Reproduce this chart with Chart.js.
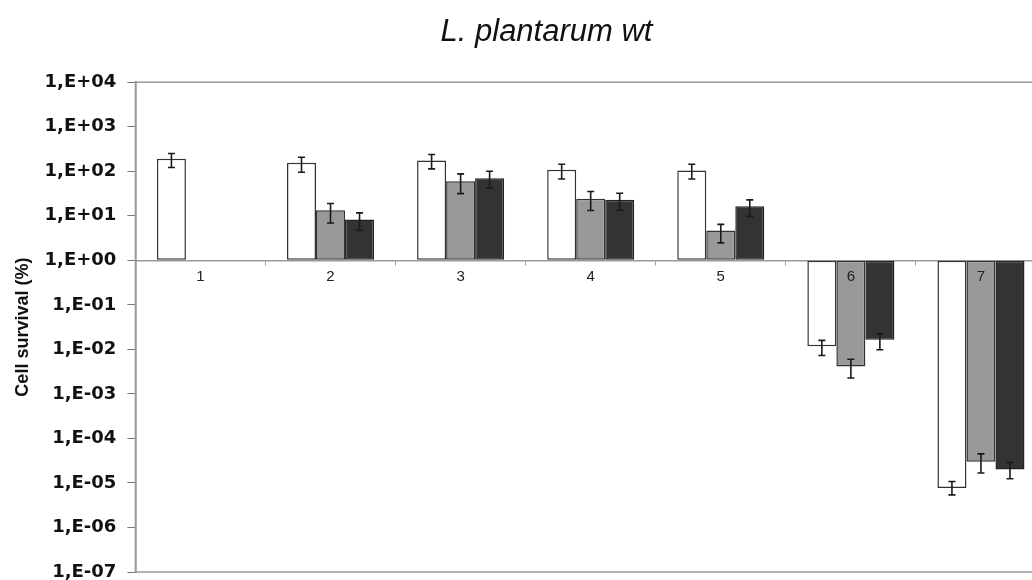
<!DOCTYPE html>
<html>
<head>
<meta charset="utf-8">
<script src="https://cdn.jsdelivr.net/npm/chart.js@4"></script>
<style>
  html, body { margin: 0; padding: 0; background: #fff; overflow: hidden; }
  #wrap { width: 1032px; height: 580px; overflow: hidden; }
</style>
</head>
<body>
<div id="wrap"><canvas id="chart" width="1093" height="600"></canvas></div>
<script>
// L. plantarum wt - cell survival, log scale, bars from 1,E+00

const categories = ['1', '2', '3', '4', '5', '6', '7'];

const survivalWhite = [190, 155, 174, 108, 104, 0.0117, 7.7e-6];
const survivalGrey  = [null, 13.3, 59.6, 24, 4.65, 0.0041, 3.0e-5];
const survivalDark  = [null, 8.2, 69.6, 22.8, 16.3, 0.0165, 2.0e-5];

// error bars [low, high]
const errWhite = [[121, 250], [95, 206], [113, 237], [67, 144], [67, 144], [0.0073, 0.0159], [5.4e-6, 1.08e-5]];
const errGrey  = [null, [6.9, 18.8], [31.5, 87.5], [13.1, 35], [2.46, 6.4], [0.00228, 0.006], [1.67e-5, 4.5e-5]];
const errDark  = [null, [4.7, 11.6], [42.4, 100], [13.3, 32], [9.7, 22.8], [0.0098, 0.0225], [1.24e-5, 2.9e-5]];

const yTickValues = [1e4, 1e3, 1e2, 1e1, 1e0, 1e-1, 1e-2, 1e-3, 1e-4, 1e-5, 1e-6, 1e-7];
const yTickLabels = ['1,E+04', '1,E+03', '1,E+02', '1,E+01', '1,E+00', '1,E-01',
                     '1,E-02', '1,E-03', '1,E-04', '1,E-05', '1,E-06', '1,E-07'];

const errorSets = [errWhite, errGrey, errDark];

const errorBars = {
  id: 'errorBars',
  afterDatasetsDraw(chart) {
    const { ctx } = chart;
    const y = chart.scales.y;
    ctx.save();
    ctx.strokeStyle = '#1a1a1a';
    ctx.lineWidth = 1.6;
    errorSets.forEach((errs, i) => {
      const meta = chart.getDatasetMeta(i);
      meta.data.forEach((bar, j) => {
        const e = errs[j];
        if (!e) return;
        const y1 = y.getPixelForValue(e[0]);
        const y2 = y.getPixelForValue(e[1]);
        ctx.beginPath();
        ctx.moveTo(bar.x, y1); ctx.lineTo(bar.x, y2);
        ctx.moveTo(bar.x - 3.5, y1); ctx.lineTo(bar.x + 3.5, y1);
        ctx.moveTo(bar.x - 3.5, y2); ctx.lineTo(bar.x + 3.5, y2);
        ctx.stroke();
      });
    });
    ctx.restore();
  }
};

// plot frame + title centred on the whole canvas
const frame = {
  id: 'frame',
  afterLayout(chart) {
    if (chart.titleBlock) {
      chart.titleBlock.left = 0;
      chart.titleBlock.right = chart.width;
    }
  },
  beforeDatasetsDraw(chart) {
    const { ctx, chartArea: a } = chart;
    ctx.save();
    ctx.strokeStyle = '#9a9a9a';
    ctx.lineWidth = 1.5;
    ctx.strokeRect(a.left, a.top, a.right - a.left, a.bottom - a.top);
    ctx.restore();
  }
};

function barSet(data, fill, border) {
  return {
    data: data,
    base: 1,
    backgroundColor: fill,
    borderColor: border,
    borderWidth: 1.5,
    borderSkipped: false,
    barPercentage: 1,
    categoryPercentage: 0.669
  };
}

new Chart(document.getElementById('chart'), {
  type: 'bar',
  data: {
    labels: categories,
    datasets: [
      barSet(survivalWhite, '#ffffff', '#333333'),
      barSet(survivalGrey, '#999999', '#333333'),
      barSet(survivalDark, '#333333', '#222222')
    ]
  },
  options: {
    responsive: false,
    devicePixelRatio: 1,
    animation: false,
    layout: { padding: { left: 8, right: 47, top: 0, bottom: 28 } },
    plugins: {
      legend: { display: false },
      tooltip: { enabled: false },
      title: {
        display: true,
        text: 'L. plantarum wt',
        color: '#111',
        font: { family: 'Liberation Sans, Arial, sans-serif', size: 31, style: 'italic', weight: 'normal' },
        padding: { top: 14, bottom: 31 }
      }
    },
    scales: {
      x: {
        position: { y: 1 },
        grid: { display: true, drawOnChartArea: false, drawTicks: true, tickLength: 4, offset: true, color: '#9a9a9a' },
        border: { color: '#9a9a9a', width: 1.5 },
        ticks: {
          z: 1,
          color: '#222',
          padding: 4,
          font: { family: 'Liberation Sans, Arial, sans-serif', size: 15 }
        }
      },
      y: {
        type: 'logarithmic',
        min: 1e-7,
        max: 1e4,
        afterBuildTicks: (scale) => {
          scale.ticks = yTickValues.map(v => ({ value: v }));
        },
        grid: { display: true, drawOnChartArea: false, drawTicks: true, tickLength: 8, color: '#777' },
        border: { color: '#777', width: 1.5 },
        ticks: {
          color: '#111',
          padding: 11,
          autoSkip: false,
          font: { family: 'DejaVu Sans, sans-serif', size: 18, weight: 'bold' },
          callback: (value) => {
            const i = yTickValues.findIndex(v => Math.abs(Math.log10(v) - Math.log10(value)) < 1e-6);
            return i >= 0 ? yTickLabels[i] : '';
          }
        },
        title: {
          display: true,
          text: 'Cell survival (%)',
          color: '#111',
          font: { family: 'Liberation Sans, Arial, sans-serif', size: 18, weight: 'bold' },
          padding: { top: 4, bottom: 0 }
        }
      }
    }
  },
  plugins: [frame, errorBars]
});
</script>
</body>
</html>
